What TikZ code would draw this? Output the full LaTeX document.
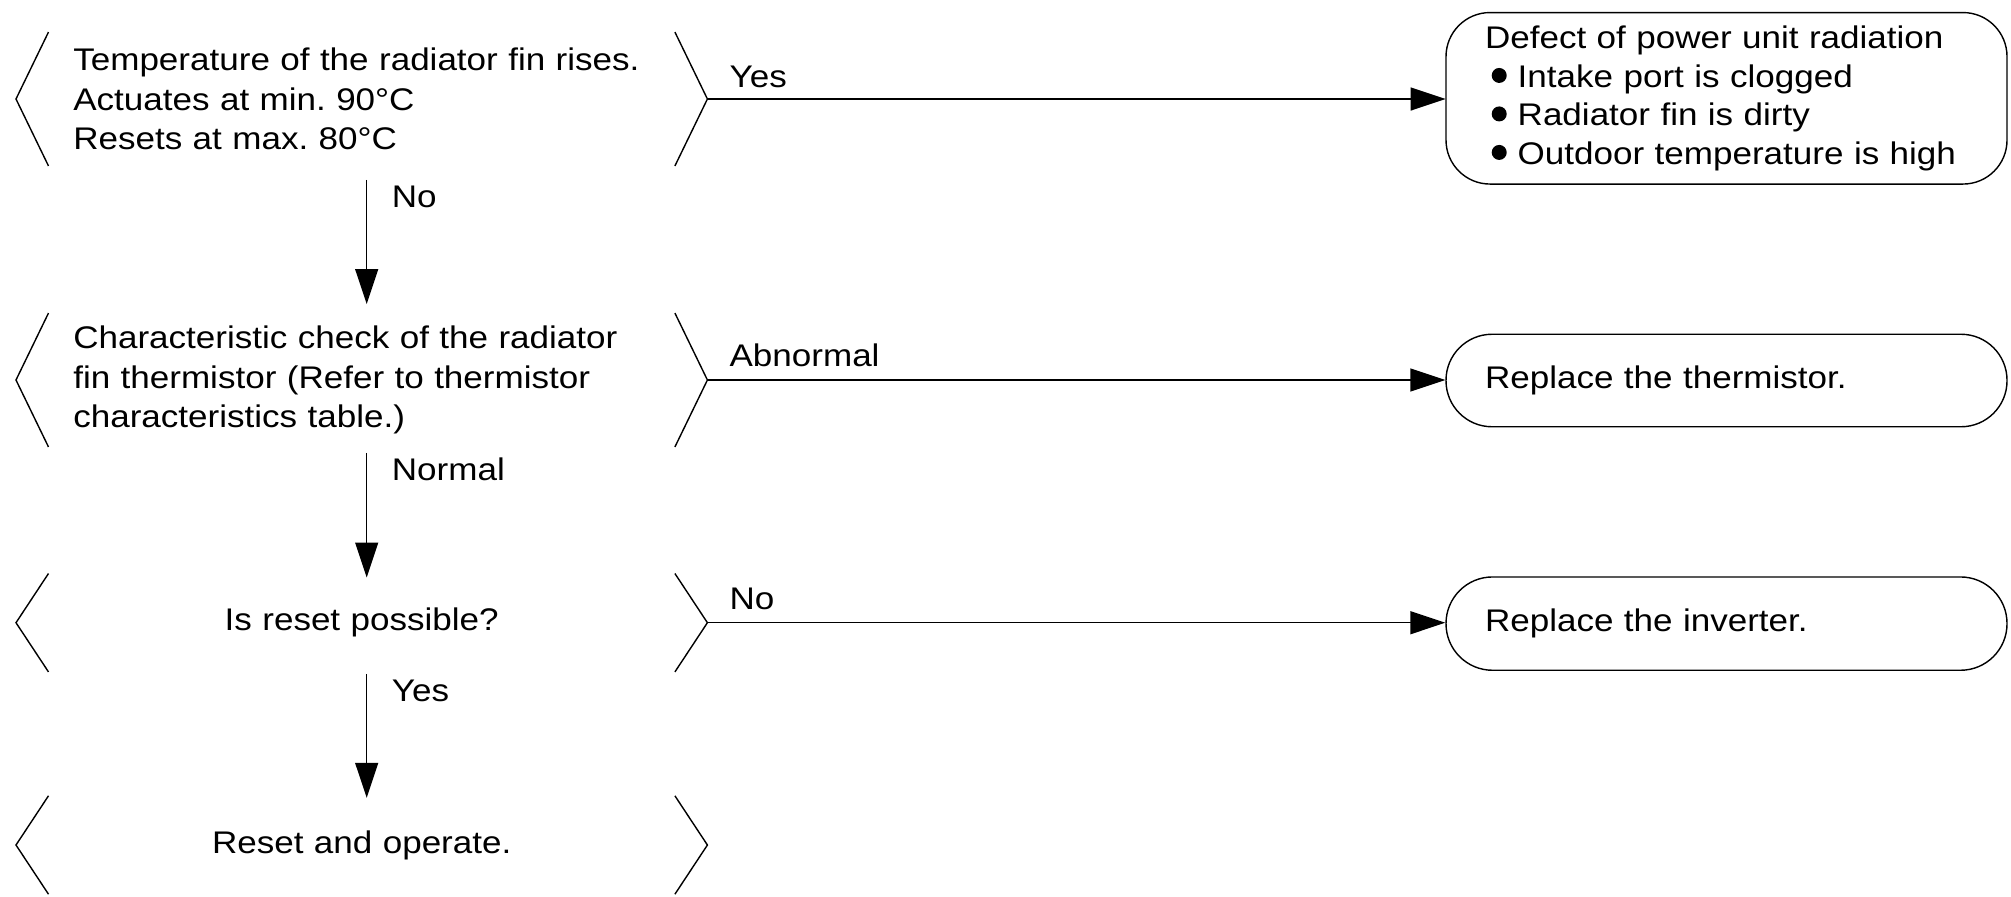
\documentclass[tikz,border=0pt]{standalone}
\usepackage{fontspec}
\setmainfont[FakeStretch=1.12]{Liberation Sans}
\usepackage{tikz}
\usetikzlibrary{arrows.meta,positioning,calc}
\frenchspacing

\newcommand{\blt}{\tikz[baseline=-0.234cm]\fill (0,0) circle (0.15cm);}

\begin{document}
\begin{tikzpicture}[
    line width=0.8pt,
    decide/.style={minimum width=13.8cm, text width=11.536cm, inner xsep=1.132cm, inner ysep=2pt, align=left, font=\fontsize{17.8pt}{22.5pt}\selectfont},
    result/.style={draw, minimum width=11.22cm, text width=9.66cm, inner xsep=0.78cm, inner ysep=2pt, align=left, font=\fontsize{17.8pt}{21.9pt}\selectfont},
    flow/.style={-{Triangle[length=0.7cm, width=0.46cm]}},
    lbl/.style={font=\fontsize{17.8pt}{21.9pt}\selectfont, inner sep=0pt, anchor=base west}
  ]
    \useasboundingbox (0,0) rectangle (40.22,-17.92);

    % checks on the left
    \node[decide, minimum height=2.65cm] (temp) at (7.234, -1.98) {Temperature of the radiator fin rises.\\ Actuates at min. 90°C\\ Resets at max. 80°C};
    \node[decide, minimum height=2.65cm] (therm) at (7.234, -7.60) {Characteristic check of the radiator\\ fin thermistor (Refer to thermistor\\ characteristics table.)};
    \node[decide, minimum height=1.94cm, align=center] (reset) at (7.234, -12.454) {Is reset possible?};
    \node[decide, minimum height=1.94cm, align=center] (done) at (7.234, -16.9) {Reset and operate.};

    \foreach \n in {temp, therm, reset, done} {
      \draw ($(\n.north west)+(0.65,0)$) -- (\n.west) -- ($(\n.south west)+(0.65,0)$);
      \draw ($(\n.north east)+(-0.65,0)$) -- (\n.east) -- ($(\n.south east)+(-0.65,0)$);
    }

    % results on the right
    \node[result, minimum height=3.43cm, rounded corners=0.88cm] (defect) at (34.53, -1.966) {Defect of power unit radiation\\
      \hspace*{0.134cm}\blt\hspace{0.22cm}Intake port is clogged\\
      \hspace*{0.134cm}\blt\hspace{0.22cm}Radiator fin is dirty\\
      \hspace*{0.134cm}\blt\hspace{0.22cm}Outdoor temperature is high};
    \node[result, minimum height=1.85cm, rounded corners=0.92cm] (repth) at (34.53, -7.61) {Replace the thermistor.};
    \node[result, minimum height=1.866cm, rounded corners=0.93cm] (repinv) at (34.53, -12.472) {Replace the inverter.};

    \draw[flow] (temp.east) -- node[lbl, pos=0, xshift=0.43cm, yshift=0.24cm] {Yes} (temp.east -| defect.west);
    \draw[flow] (therm.east) -- node[lbl, pos=0, xshift=0.43cm, yshift=0.28cm] {Abnormal} (therm.east -| repth.west);
    \draw[flow] (reset.east) -- node[lbl, pos=0, xshift=0.43cm, yshift=0.27cm] {No} (reset.east -| repinv.west);

    \draw[flow] ([shift={(0.1,-0.28)}]temp.south) -- node[lbl, pos=0, xshift=0.49cm, yshift=-0.56cm] {No} ([shift={(0.1,0.18)}]therm.north);
    \draw[flow] ([shift={(0.1,-0.12)}]therm.south) -- node[lbl, pos=0, xshift=0.49cm, yshift=-0.56cm] {Normal} ([shift={(0.1,-0.08)}]reset.north);
    \draw[flow] ([shift={(0.1,-0.04)}]reset.south) -- node[lbl, pos=0, xshift=0.49cm, yshift=-0.56cm] {Yes} ([shift={(0.1,-0.04)}]done.north);
  \end{tikzpicture}
\end{document}
